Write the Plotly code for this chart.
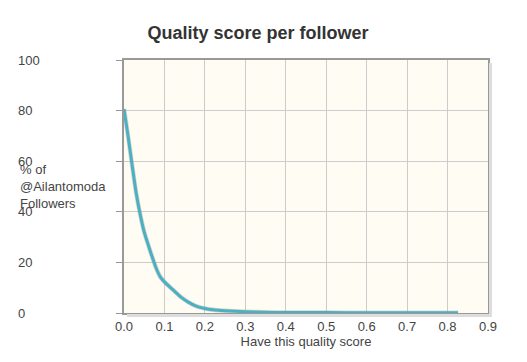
import plotly.graph_objects as go

quality_score = [0.0, 0.01, 0.02, 0.03, 0.04, 0.05, 0.06, 0.07, 0.08, 0.09, 0.10,
                 0.12, 0.14, 0.16, 0.18, 0.20, 0.22, 0.25, 0.30, 0.35, 0.40,
                 0.50, 0.60, 0.70, 0.826]
pct_followers = [80.6, 70.0, 58.5, 47.5, 39.0, 32.0, 26.9, 22.0, 17.5, 14.2, 12.3,
                 9.3, 6.4, 4.2, 2.6, 1.8, 1.3, 0.9, 0.5, 0.3, 0.2,
                 0.15, 0.1, 0.1, 0.05]

x_ticks = [0.0, 0.1, 0.2, 0.3, 0.4, 0.5, 0.6, 0.7, 0.8, 0.9]
x_tick_labels = ["0.0", "0.1", "0.2", "0.3", "0.4", "0.5", "0.6", "0.7", "0.8", "0.9"]
y_ticks = [0, 20, 40, 60, 80, 100]
y_tick_labels = ["0", "20", "40", "60", "80", "100"]

FONT = "Arial, Liberation Sans, sans-serif"
# page body has an 8px margin, so the figure is drawn 8px right/down
OFF = 8
W, H = 527 - OFF, 362 - OFF
PL, PR, PT, PB = 124 - OFF, 488 - OFF, 60 - OFF, 313 - OFF
ML, MR, MT, MB = 9, W - PR, PT, H - PB
pw = W - ML - MR
ph = H - MT - MB
x0 = (PL - ML) / pw

fig = go.Figure()
# soft shadow under the curve
fig.add_trace(go.Scatter(
    x=quality_score, y=pct_followers, mode="lines",
    line=dict(color="rgba(120,120,120,0.28)", width=4.5, shape="spline", smoothing=0.6),
    hoverinfo="skip", showlegend=False, xaxis="x", yaxis="y"))
fig.add_trace(go.Scatter(
    x=quality_score, y=pct_followers, mode="lines",
    line=dict(color="#4BB0C1", width=3, shape="spline", smoothing=0.6),
    showlegend=False, xaxis="x", yaxis="y2"))

fig.update_layout(
    width=W, height=H,
    margin=dict(l=ML, r=MR, t=MT, b=MB, autoexpand=False),
    paper_bgcolor="white",
    plot_bgcolor="#FFFCF3",
    font=dict(family=FONT, size=12, color="#444"),
    title=dict(text="<b>Quality score per follower</b>", x=(258 - OFF) / W, xanchor="center",
               y=1 - (33 - OFF) / H, yanchor="middle",
               font=dict(family=FONT, size=18, color="#333")),
    xaxis=dict(domain=[x0, 1.0], range=[0, 0.9], tickvals=x_ticks, ticktext=x_tick_labels,
               showgrid=True, gridcolor="#CCCCCC", gridwidth=1,
               showline=True, linecolor="#999999", linewidth=2, mirror=True,
               ticks="", zeroline=False, automargin=False,
               tickfont=dict(size=13, color="#444"),
               title=dict(text="Have this quality score", standoff=3,
                          font=dict(size=13, color="#444"))),
    yaxis=dict(range=[0, 100], tickvals=y_ticks, showticklabels=False,
               showgrid=True, gridcolor="#CCCCCC", gridwidth=1,
               showline=True, linecolor="#999999", linewidth=2, mirror=True,
               ticks="outside", ticklen=6, tickcolor="#999999", tickwidth=1,
               zeroline=False, automargin=False),
    yaxis2=dict(range=[0, 100], tickvals=y_ticks, ticktext=y_tick_labels,
                overlaying="y", side="right", anchor="free", position=0,
                showgrid=False, showline=False, ticks="", zeroline=False,
                automargin=False,
                tickfont=dict(size=13, color="#444")),
)

# frame drop shadow (right and bottom)
fig.add_shape(type="line", xref="paper", yref="paper",
              x0=1 + 2.5 / pw, x1=1 + 2.5 / pw, y0=-2 / ph, y1=1 - 3 / ph,
              line=dict(color="#DDDDDD", width=3))
fig.add_shape(type="line", xref="paper", yref="paper",
              x0=x0 + 3 / pw, x1=1 + 4 / pw, y0=-2.5 / ph, y1=-2.5 / ph,
              line=dict(color="#DDDDDD", width=3))

fig.add_annotation(text="% of<br>@Ailantomoda<br>Followers", xref="paper", yref="paper",
                   x=(20 - OFF - ML) / pw, xanchor="left", xshift=-2,
                   y=1 - (186 - OFF - MT) / ph,
                   yanchor="middle", align="left", showarrow=False,
                   font=dict(family=FONT, size=13, color="#444"))

fig.write_html("out.html")
